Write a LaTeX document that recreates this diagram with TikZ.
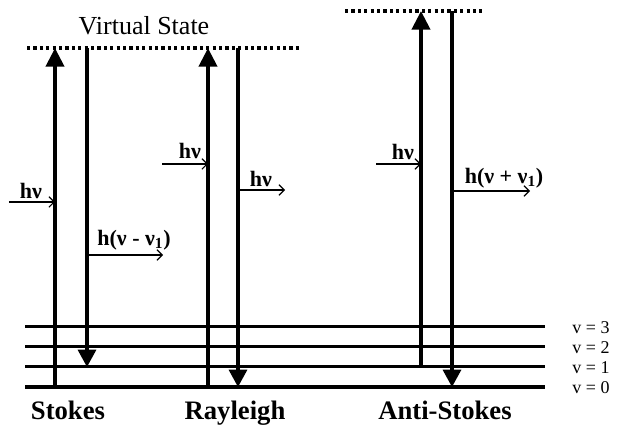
\documentclass[tikz,border=0pt]{standalone}
\usepackage{fontspec}
\setmainfont{Liberation Serif}
\usepackage{tikz}
\usetikzlibrary{positioning, arrows.meta, calc}

\begin{document}
\begin{tikzpicture}[x=7.5pt,y=7.5pt]
	\tikzset{
		level/.style={line width=2.25pt},
		up arrow/.style={line width=3pt, -{Triangle[length=14pt,width=13.5pt]}},
		down arrow/.style={line width=2.4pt, -{Triangle[length=13pt,width=13.5pt]}},
		photon/.style={line width=0.8pt, -{Straight Barb[length=4pt,width=8pt]}},
		virtual/.style={line width=2.6pt, dash pattern=on 2.4pt off 2.4pt},
		small label/.style={font=\fontsize{16.5}{16.5}\selectfont\bfseries, inner sep=0pt},
		level label/.style={font=\fontsize{13.5}{13.5}\selectfont, inner sep=0pt},
		name label/.style={font=\fontsize{20}{20}\selectfont\bfseries, inner sep=0pt, anchor=base}
	}
	\useasboundingbox (0,0) rectangle (62.2,42.9);
	\foreach \v/\y/\w in {0/4.2/3pt,1/6.2/2.25pt,2/8.2/2.25pt,3/10.2/2.25pt} {
		\coordinate (lvL\v) at (2.5,\y);
		\coordinate (lvR\v) at (54.5,\y);
		\draw[level, line width=\w] (lvL\v) -- (lvR\v);
		\node[level label] (lbl\v) at (59.1,\y-0.1) {v = \v};
	}
	\coordinate (vsL) at (2.7,38.1);
	\coordinate (vsR) at (30,38.1);
	\coordinate (asL) at (34.5,41.8);
	\coordinate (asR) at (48.2,41.8);
	\draw[virtual] (vsL) -- (vsR);
	\draw[virtual] (asL) -- (asR);
	\node[font=\fontsize{19.5}{19.5}\selectfont] (vstate) at (14.4,40.3) {Virtual State};

	\coordinate (stU) at (5.5,4.2);
	\coordinate (stD) at (8.7,6.2);
	\coordinate (raU) at (20.8,4.2);
	\coordinate (raD) at (23.8,4.2);
	\coordinate (anU) at (42.1,6.2);
	\coordinate (anD) at (45.2,4.2);
	\draw[up arrow] (stU) -- (stU |- vsL);
	\draw[down arrow] (stD |- vsL) -- (stD);
	\draw[up arrow] (raU) -- (raU |- vsL);
	\draw[down arrow] (raD |- vsL) -- (raD);
	\draw[up arrow] (anU) -- (anU |- asL);
	\draw[down arrow] (anD |- asL) -- (anD);

	\coordinate (stIn) at (0.9,22.7);
	\coordinate (stOut) at (16.3,17.4);
	\coordinate (raIn) at (16.2,26.5);
	\coordinate (raOut) at (28.5,23.9);
	\coordinate (anIn) at (37.6,26.5);
	\coordinate (anOut) at (53.0,23.8);
	\draw[photon] (stIn) -- (stU |- stIn);
	\draw[photon] (stD |- stOut) -- (stOut);
	\draw[photon] (raIn) -- (raU |- raIn);
	\draw[photon] (raD |- raOut) -- (raOut);
	\draw[photon] (anIn) -- (anU |- anIn);
	\draw[photon] (anD |- anOut) -- (anOut);
	\node[small label] (stInL) at (3.1,23.8) {hν};
	\node[small label] (stOutL) at (13.4,18.9) {h(ν - ν\textsubscript{1})};
	\node[small label] (raInL) at (19.0,27.8) {hν};
	\node[small label] (raOutL) at (26.1,25.0) {hν};
	\node[small label] (anInL) at (40.3,27.7) {hν};
	\node[small label] (anOutL) at (50.4,25.1) {h(ν + ν\textsubscript{1})};

	\node[name label] (stokes) at (6.8,0.9) {Stokes};
	\node[name label] (rayleigh) at (23.5,0.9) {Rayleigh};
	\node[name label] (anti) at (44.5,0.9) {Anti-Stokes};
\end{tikzpicture}
\end{document}
